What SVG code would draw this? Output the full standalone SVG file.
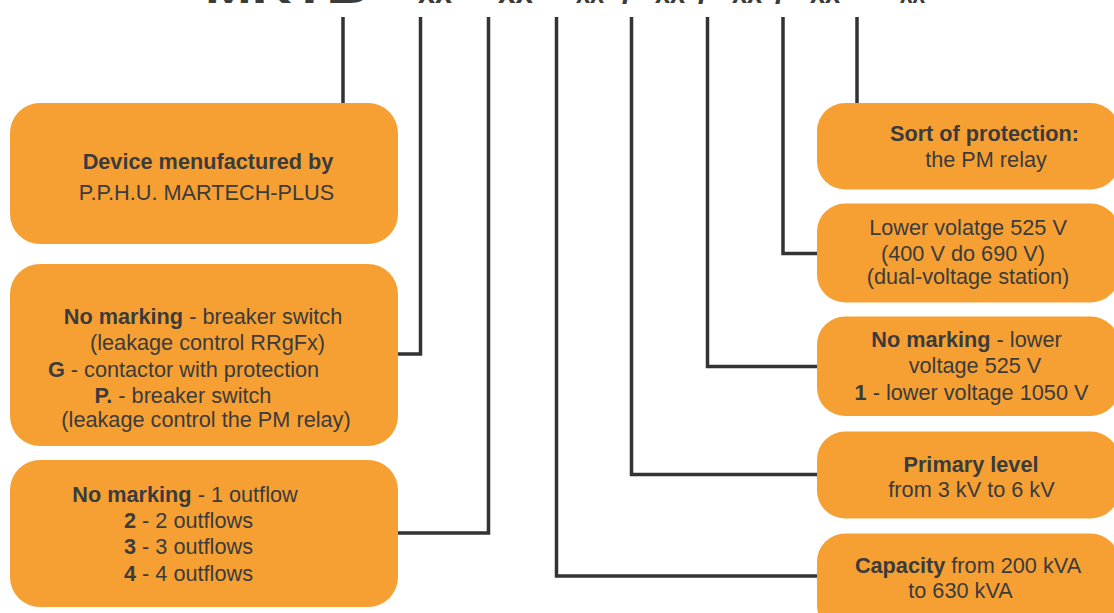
<svg xmlns="http://www.w3.org/2000/svg" width="1114" height="613" viewBox="0 0 1114 613">
<style>
.box{fill:#F6A034;}
.t{font-family:"Liberation Sans",Arial,sans-serif;font-size:21.7px;fill:#3B3B3B;text-anchor:middle;}
.b{font-weight:bold;}
.c{fill:none;stroke:#333333;stroke-width:3.5;stroke-linejoin:miter;}
.top{font-family:"Liberation Sans",Arial,sans-serif;font-size:34px;font-weight:bold;fill:#3B3B3B;}
</style>
<rect width="1114" height="613" fill="#ffffff"/>
<text class="top" y="3"><tspan x="205" textLength="162" lengthAdjust="spacingAndGlyphs">MRTB</tspan><tspan x="418" textLength="34" lengthAdjust="spacingAndGlyphs">xx</tspan><tspan x="498" textLength="35" lengthAdjust="spacingAndGlyphs">xx</tspan><tspan x="576" textLength="28" lengthAdjust="spacingAndGlyphs">xx</tspan><tspan x="622">/</tspan><tspan x="655" textLength="30" lengthAdjust="spacingAndGlyphs">xx</tspan><tspan x="698">/</tspan><tspan x="732" textLength="30" lengthAdjust="spacingAndGlyphs">xx</tspan><tspan x="775">/</tspan><tspan x="810" textLength="30" lengthAdjust="spacingAndGlyphs">xx</tspan><tspan x="900" textLength="25" lengthAdjust="spacingAndGlyphs">xx</tspan></text>
<g id="connectors">
<path class="c" d="M343,17 V103"/>
<path class="c" d="M420.5,17 V354 H398"/>
<path class="c" d="M488.5,17 V533 H398"/>
<path class="c" d="M556.5,17 V576 H817"/>
<path class="c" d="M631.5,17 V474.5 H817"/>
<path class="c" d="M707.5,17 V366.5 H817"/>
<path class="c" d="M783,17 V253.5 H817"/>
<path class="c" d="M857,17 V103"/>
</g>
<g id="node-manufacturer">
<rect class="box" x="10" y="103" width="388" height="141" rx="30"/>
<text class="t b" x="208" y="169">Device menufactured by</text>
<text class="t" x="206.5" y="200">P.P.H.U. MARTECH-PLUS</text>
</g>
<g id="node-switch">
<rect class="box" x="10" y="264" width="388" height="182" rx="30"/>
<text class="t" x="203" y="323.5"><tspan class="b">No marking</tspan> - breaker switch</text>
<text class="t" x="207.5" y="349.5">(leakage control RRgFx)</text>
<text class="t" x="183.5" y="376.5"><tspan class="b">G</tspan> - contactor with protection</text>
<text class="t" x="183" y="402.5"><tspan class="b">P.</tspan> - breaker switch</text>
<text class="t" x="206" y="426.5">(leakage control the PM relay)</text>
</g>
<g id="node-outflows">
<rect class="box" x="10" y="460" width="388" height="147" rx="30"/>
<text class="t" x="185" y="502"><tspan class="b">No marking</tspan> - 1 outflow</text>
<text class="t" x="188.5" y="528"><tspan class="b">2</tspan> - 2 outflows</text>
<text class="t" x="188.5" y="554"><tspan class="b">3</tspan> - 3 outflows</text>
<text class="t" x="188.5" y="580.5"><tspan class="b">4</tspan> - 4 outflows</text>
</g>
<g id="node-protection">
<rect class="box" x="817" y="103" width="302" height="86.5" rx="28"/>
<text class="t b" x="984.5" y="140.5">Sort of protection:</text>
<text class="t" x="986" y="166.5">the PM relay</text>
</g>
<g id="node-lower-525">
<rect class="box" x="817" y="203.5" width="302" height="99" rx="28"/>
<text class="t" x="968" y="235">Lower volatge 525 V</text>
<text class="t" x="963" y="260.5">(400 V do 690 V)</text>
<text class="t" x="968" y="284">(dual-voltage station)</text>
</g>
<g id="node-lower-marking">
<rect class="box" x="817" y="316.5" width="302" height="99.5" rx="28"/>
<text class="t" x="966.5" y="346.5"><tspan class="b">No marking</tspan> - lower</text>
<text class="t" x="975" y="373">voltage 525 V</text>
<text class="t" x="971.5" y="400"><tspan class="b">1</tspan> - lower voltage 1050 V</text>
</g>
<g id="node-primary">
<rect class="box" x="817" y="431.5" width="302" height="87" rx="28"/>
<text class="t b" x="971" y="471.5">Primary level</text>
<text class="t" x="971.5" y="496.5">from 3 kV to 6 kV</text>
</g>
<g id="node-capacity">
<rect class="box" x="817" y="533.5" width="302" height="100" rx="28"/>
<text class="t" x="968" y="573"><tspan class="b">Capacity</tspan> from 200 kVA</text>
<text class="t" x="960.5" y="598">to 630 kVA</text>
</g>
</svg>
